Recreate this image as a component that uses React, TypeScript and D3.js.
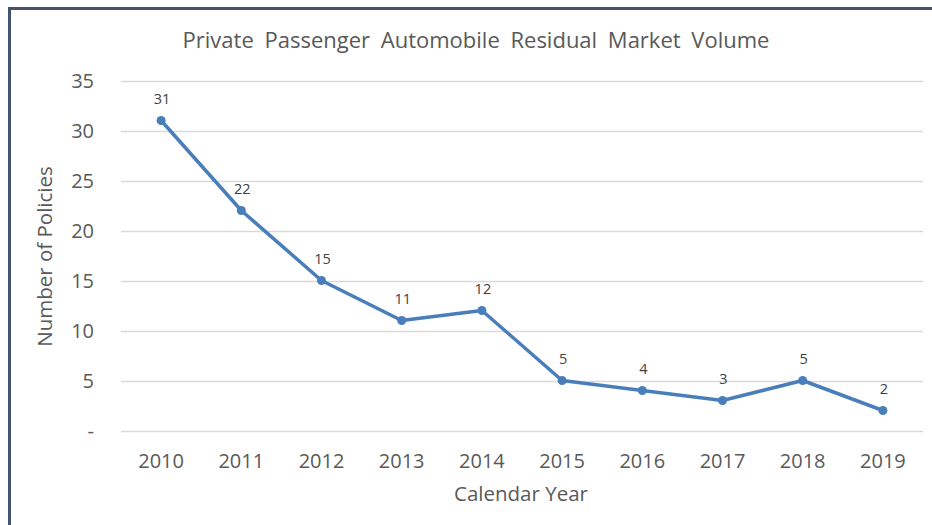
import { useEffect, useRef } from "react";
import * as d3 from "d3";

const years = ["2010", "2011", "2012", "2013", "2014", "2015", "2016", "2017", "2018", "2019"];
const policies = [31, 22, 15, 11, 12, 5, 4, 3, 5, 2];
const yTicks = [0, 5, 10, 15, 20, 25, 30, 35];

const FONT = "'Open Sans', 'Noto Sans', sans-serif";

export default function App() {
    const svgRef = useRef<SVGSVGElement>(null);

    useEffect(() => {
        if (!svgRef.current) return;
        const svg = d3.select(svgRef.current);
        svg.selectAll("*").remove();

        const width = 932;
        const height = 525;
        const plot = { left: 121, right: 923, top: 80.5, bottom: 430.5 };

        // Frame (only top and left edges visible)
        svg.append("rect").attr("width", width).attr("height", height).attr("fill", "white");
        svg.append("line")
            .attr("x1", 8).attr("x2", width).attr("y1", 8.5).attr("y2", 8.5)
            .attr("stroke", "#44546a").attr("stroke-width", 3);
        svg.append("line")
            .attr("x1", 9.5).attr("x2", 9.5).attr("y1", 7).attr("y2", height)
            .attr("stroke", "#44546a").attr("stroke-width", 3);

        const x = d3.scaleBand<string>().domain(years).range([plot.left, plot.right]);
        const y = d3.scaleLinear().domain([0, 35]).range([plot.bottom, plot.top]);
        const cx = (d: string) => (x(d) ?? 0) + x.bandwidth() / 2;

        // Gridlines
        svg.append("g")
            .selectAll("line")
            .data(yTicks)
            .enter()
            .append("line")
            .attr("x1", plot.left).attr("x2", plot.right)
            .attr("y1", d => Math.round(y(d)) + 0.5).attr("y2", d => Math.round(y(d)) + 0.5)
            .attr("stroke", "#d9d9d9").attr("stroke-width", 1.3);

        // Y tick labels
        svg.append("g")
            .selectAll("text")
            .data(yTicks)
            .enter()
            .append("text")
            .attr("x", 94)
            .attr("y", d => y(d))
            .attr("dy", "0.35em")
            .attr("text-anchor", "end")
            .attr("font-family", FONT)
            .attr("font-size", 20)
            .attr("fill", "#595959")
            .text(d => (d === 0 ? "-" : String(d)));

        // X tick labels
        svg.append("g")
            .selectAll("text")
            .data(years)
            .enter()
            .append("text")
            .attr("x", d => cx(d))
            .attr("y", 468)
            .attr("text-anchor", "middle")
            .attr("font-family", FONT)
            .attr("font-size", 20)
            .attr("fill", "#595959")
            .text(d => d);

        // Line
        const line = d3.line<number>()
            .x((_, i) => cx(years[i]))
            .y(d => y(d));

        svg.append("path")
            .attr("d", line(policies) ?? "")
            .attr("fill", "none")
            .attr("stroke", "#4a7ebb")
            .attr("stroke-width", 3.5)
            .attr("stroke-linejoin", "round");

        svg.append("g")
            .selectAll("circle")
            .data(policies)
            .enter()
            .append("circle")
            .attr("cx", (_, i) => cx(years[i]))
            .attr("cy", d => y(d))
            .attr("r", 4.5)
            .attr("fill", "#4a7ebb");

        // Data labels
        svg.append("g")
            .selectAll("text")
            .data(policies)
            .enter()
            .append("text")
            .attr("x", (_, i) => cx(years[i]) + 1)
            .attr("y", d => y(d) - 17)
            .attr("text-anchor", "middle")
            .attr("font-family", FONT)
            .attr("font-size", 14.5)
            .attr("fill", "#404040")
            .text(d => d);

        // Title
        svg.append("text")
            .attr("x", 476)
            .attr("y", 48)
            .attr("text-anchor", "middle")
            .attr("font-family", FONT)
            .attr("font-size", 22)
            .attr("word-spacing", 5)
            .attr("fill", "#595959")
            .text("Private Passenger Automobile Residual Market Volume");

        // Axis titles
        svg.append("text")
            .attr("transform", `translate(52,${(plot.top + plot.bottom) / 2 + 1}) rotate(-90)`)
            .attr("text-anchor", "middle")
            .attr("font-family", FONT)
            .attr("font-size", 20.5)
            .attr("fill", "#595959")
            .text("Number of Policies");

        svg.append("text")
            .attr("x", 521)
            .attr("y", 501)
            .attr("text-anchor", "middle")
            .attr("font-family", FONT)
            .attr("font-size", 20.5)
            .attr("fill", "#595959")
            .text("Calendar Year");
    }, []);

    return (
        <svg
            ref={svgRef}
            width={932}
            height={525}
            style={{ position: "absolute", left: 0, top: 0, display: "block" }}
        ></svg>
    );
}
